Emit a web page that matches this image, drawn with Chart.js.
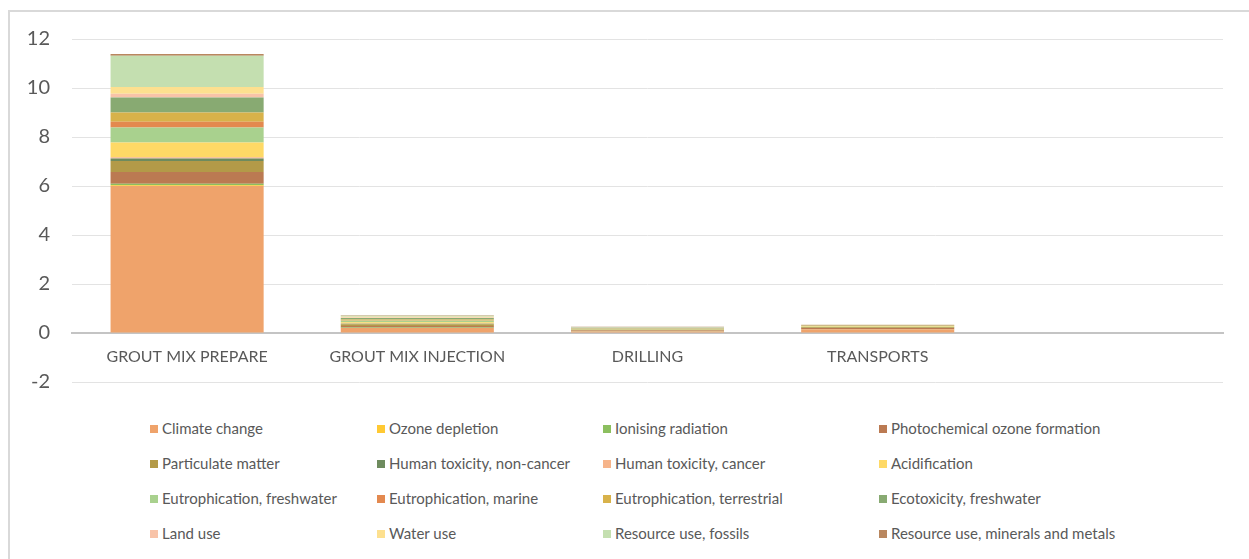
<!DOCTYPE html>
<html>
<head>
<meta charset="utf-8">
<script src="https://cdn.jsdelivr.net/npm/chart.js@4.4.1/dist/chart.umd.min.js"></script>
<style>
    body { margin: 0; background: #fff; overflow: hidden; width: 1249px; height: 559px; font-family: Lato, sans-serif; }
    #frame { position: absolute; left: 8px; top: 10px; width: 1300px; height: 600px; border-left: 2px solid #d9d9d9; border-top: 2px solid #d9d9d9; }
    #chart { position: absolute; left: 0; top: 0; }
    #legend { position: absolute; left: 0; top: 0; }
    .item { position: absolute; font-size: 15px; color: #595959; white-space: nowrap; line-height: 16px; }
    .item .box { display: inline-block; width: 8px; height: 8px; margin-right: 4px; vertical-align: 1px; }
</style>
</head>
<body>
<div id="frame"></div>
<canvas id="chart" width="1249" height="416"></canvas>
<div id="legend"></div>
<script>
const processes = ['GROUT MIX PREPARE', 'GROUT MIX INJECTION', 'DRILLING', 'TRANSPORTS', ''];

const impactNames = [
    'Climate change', 'Ozone depletion', 'Ionising radiation', 'Photochemical ozone formation',
    'Particulate matter', 'Human toxicity, non-cancer', 'Human toxicity, cancer', 'Acidification',
    'Eutrophication, freshwater', 'Eutrophication, marine', 'Eutrophication, terrestrial', 'Ecotoxicity, freshwater',
    'Land use', 'Water use', 'Resource use, fossils', 'Resource use, minerals and metals'
];

const impactColors = [
    '#efa36b', '#ffc933', '#8cbf5f', '#bb7a52',
    '#b39a48', '#6e8b5e', '#f6b48a', '#fed966',
    '#a9d18e', '#e3894f', '#d8b24a', '#88aa72',
    '#f8c3a8', '#fde08f', '#c4dfb0', '#b9875f'
];

// one value per impact category, same order as impactNames
const groutPrepare   = [6.00, 0.03, 0.06, 0.48, 0.45, 0.10, 0.05, 0.61, 0.61, 0.23, 0.38, 0.61, 0.16, 0.27, 1.28, 0.07];
const groutInjection = [0.20, 0.005, 0.02, 0.06, 0.07, 0.02, 0.01, 0.05, 0.06, 0.02, 0.04, 0.06, 0.02, 0.03, 0.04, 0.02];
const drilling       = [0.06, 0.002, 0.01, 0.03, 0.02, 0.01, 0.005, 0.02, 0.015, 0.01, 0.015, 0.02, 0.005, 0.005, 0.015, 0.01];
const transports     = [0.15, 0.002, 0.01, 0.04, 0.03, 0.01, 0.005, 0.02, 0.015, 0.01, 0.015, 0.02, 0.005, 0.005, 0.01, 0.005];

const perProcess = [groutPrepare, groutInjection, drilling, transports];

const datasets = impactNames.map((name, i) => ({
    label: name,
    data: perProcess.map(p => p[i]).concat([null]),
    backgroundColor: impactColors[i],
    borderWidth: 0,
    barPercentage: 0.665,
    categoryPercentage: 1
}));

// legend grid: 4 columns x 4 rows, filled row by row
const legendCols = [150, 377, 603, 879];
const legendRows = [428, 463, 498, 533];

const htmlLegend = {
    id: 'htmlLegend',
    afterUpdate(chart) {
        const box = document.getElementById('legend');
        box.innerHTML = '';
        chart.options.plugins.legend.labels.generateLabels(chart).forEach((item, i) => {
            const el = document.createElement('div');
            el.className = 'item';
            el.style.left = legendCols[i % 4] + 'px';
            el.style.top = (legendRows[Math.floor(i / 4)] - 8) + 'px';
            const sq = document.createElement('span');
            sq.className = 'box';
            sq.style.background = item.fillStyle;
            el.appendChild(sq);
            el.appendChild(document.createTextNode(item.text));
            box.appendChild(el);
        });
    }
};

new Chart(document.getElementById('chart').getContext('2d'), {
    type: 'bar',
    data: { labels: processes, datasets: datasets },
    plugins: [htmlLegend],
    options: {
        responsive: false,
        animation: false,
        layout: { padding: { top: 39, right: 26, left: 0, bottom: 0 } },
        plugins: {
            legend: { display: false },
            tooltip: { enabled: false }
        },
        scales: {
            x: {
                stacked: true,
                position: { y: 0 },
                grid: { display: false, drawTicks: false },
                border: { color: '#c4c4c4', width: 2 },
                ticks: {
                    color: '#595959',
                    font: { family: 'Lato', size: 16 },
                    padding: 14,
                    maxRotation: 0,
                    autoSkip: false
                },
                afterFit: s => { s.height = 28; }
            },
            y: {
                stacked: true,
                min: -2,
                max: 12,
                ticks: {
                    stepSize: 2,
                    color: '#595959',
                    font: { family: 'Lato', size: 20 },
                    padding: 22
                },
                grid: { color: '#e3e3e3', drawTicks: false },
                border: { display: false },
                afterFit: s => { s.width = 72; }
            }
        }
    }
});
</script>
</body>
</html>
